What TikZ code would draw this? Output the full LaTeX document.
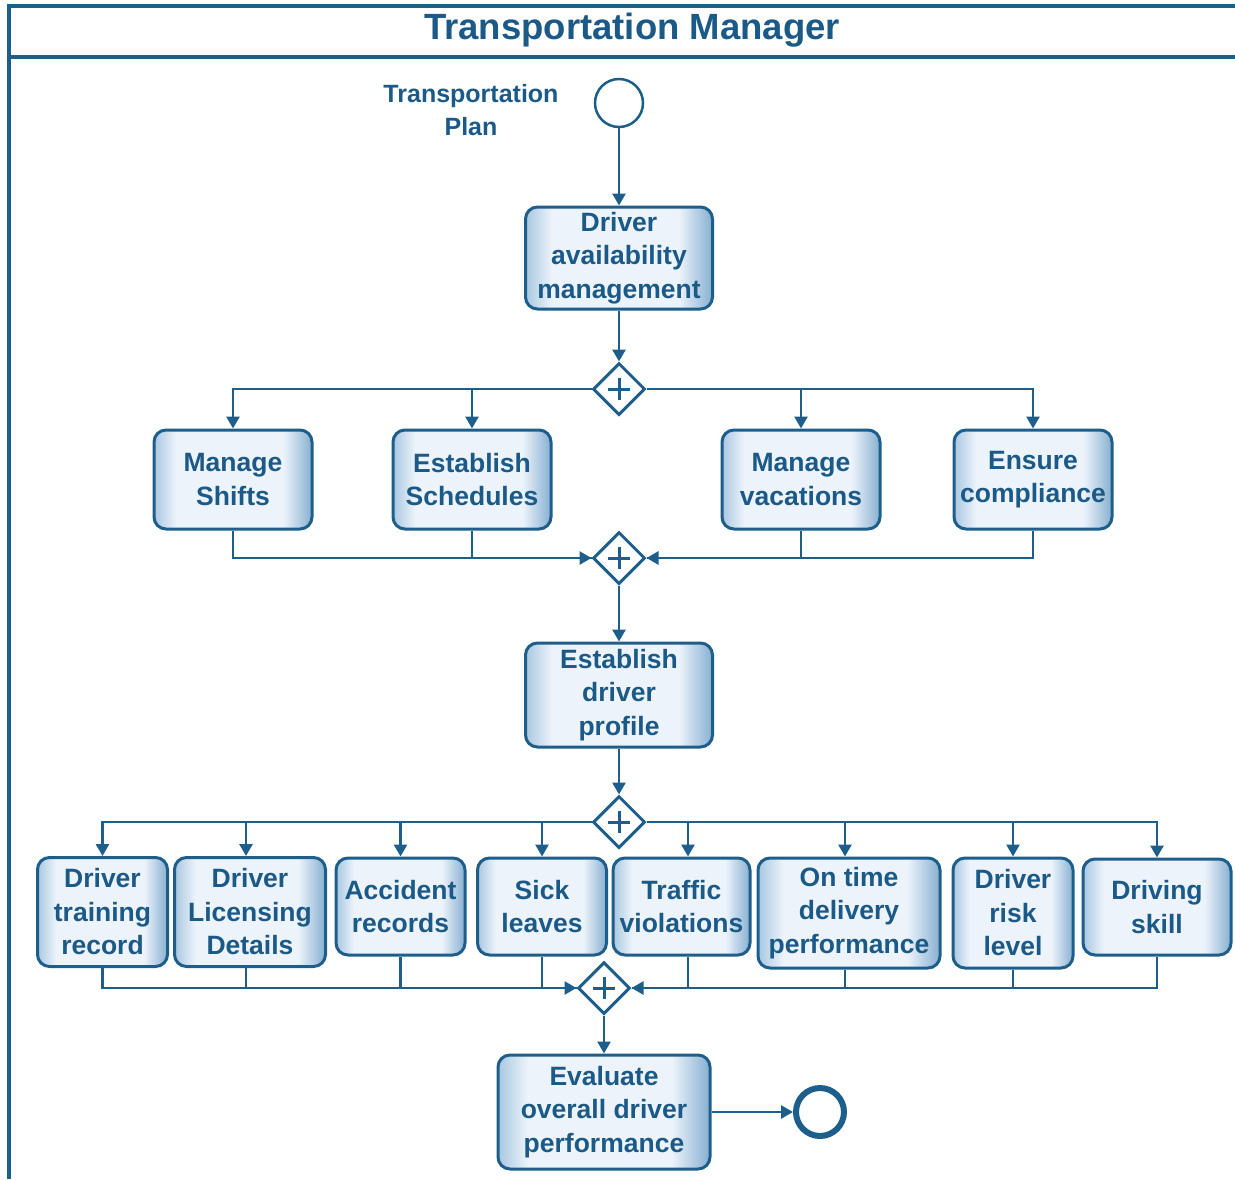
\documentclass[tikz,border=0pt]{standalone}
\usepackage{fontspec}
\setmainfont{Liberation Sans}
\usetikzlibrary{arrows.meta,shapes.geometric,calc}

\definecolor{ink}{HTML}{1E5E8B}
\definecolor{txt}{HTML}{1B5987}
\definecolor{shL}{HTML}{A8C7E1}
\definecolor{shM}{HTML}{ECF3FA}
\definecolor{shR}{HTML}{86AFD1}
% light centre, darker side bands for the task boxes
\pgfdeclarehorizontalshading{taskshade}{100bp}{color(0bp)=(shL); color(25bp)=(shL); color(32bp)=(shM); color(66bp)=(shM); color(75bp)=(shR); color(100bp)=(shR)}

\tikzset{
  task/.style={draw=ink, line width=3pt, rounded corners=12pt, shading=taskshade,
    text=txt, font=\bfseries\fontsize{26.5}{33.5}\selectfont, align=center, inner sep=0pt},
  gate/.style={diamond, draw=ink, fill=white, line width=3pt, minimum width=52pt,
    minimum height=52pt, inner sep=0pt,
    path picture={\draw[ink, line width=3pt]
      ([xshift=-11pt]path picture bounding box.center) -- ([xshift=11pt]path picture bounding box.center)
      ([yshift=-11pt]path picture bounding box.center) -- ([yshift=11pt]path picture bounding box.center);}},
  flow/.style={draw=ink, line width=2.8pt, -{Triangle[length=12pt,width=13pt]}},
  seg/.style={draw=ink, line width=2.8pt},
  pool/.style={draw=ink, line width=3.5pt},
}

\begin{document}
\begin{tikzpicture}[x=1pt, y=-1pt]
\useasboundingbox (0,0) rectangle (1235,1179);

% pool with header
\draw[pool] (9,1179) -- (9,6) -- (1235,6);
\draw[pool] (9,57) -- (1235,57);
\node[text=txt, font=\bfseries\fontsize{36.5}{40}\selectfont] (title) at (632,30) {Transportation Manager};

% events
\node[circle, draw=ink, line width=2.5pt, fill=white, minimum size=48pt, inner sep=0pt] (start) at (619,103) {};
\node[text=txt, font=\bfseries\fontsize{25}{33.5}\selectfont, align=center] (startlbl) at (471,110) {Transportation\\Plan};
\node[circle, draw=ink, line width=6pt, fill=white, minimum size=48pt, inner sep=0pt] (end) at (820,1112) {};

% tasks
\node[task, minimum width=187pt, minimum height=102pt] (dam) at (619,258) {Driver\\availability\\management};
\node[task, minimum width=158pt, minimum height=99pt] (ms) at (233,479.5) {Manage\\Shifts};
\node[task, minimum width=158pt, minimum height=99pt] (es) at (472,479.5) {Establish\\Schedules};
\node[task, minimum width=158pt, minimum height=99pt] (mv) at (801,479.5) {Manage\\vacations};
\node[task, minimum width=158pt, minimum height=99pt] (ec) at (1033,479.5) {Ensure\\compliance};
\node[task, minimum width=187pt, minimum height=104pt] (edp) at (619,695) {Establish\\driver\\profile};

\node[task, minimum width=130pt, minimum height=109pt] (dtr) at (102.5,912) {Driver\\training\\record};
\node[task, minimum width=151pt, minimum height=109pt] (dld) at (250,912) {Driver\\Licensing\\Details};
\node[task, minimum width=129pt, minimum height=97pt] (ar) at (400.5,906.5) {Accident\\records};
\node[task, minimum width=129pt, minimum height=97pt] (sl) at (542,906.5) {Sick\\leaves};
\node[task, minimum width=137pt, minimum height=97pt] (tv) at (681.5,906.5) {Traffic\\violations};
\node[task, minimum width=182pt, minimum height=110pt] (otd) at (849,913) {On time\\delivery\\performance};
\node[task, minimum width=120pt, minimum height=110pt] (drl) at (1013,913) {Driver\\risk\\level};
\node[task, minimum width=148pt, minimum height=96pt] (dsk) at (1157,907) {Driving\\skill};

\node[task, minimum width=212pt, minimum height=114pt] (eval) at (604,1112) {Evaluate\\overall driver\\performance};

% gateways
\node[gate] (g1) at (619,389) {};
\node[gate] (g2) at (619,558) {};
\node[gate] (g3) at (619,822) {};
\node[gate] (g4) at (604,988) {};

% sequence flows
\draw[flow] (start) -- (dam);
\draw[flow] (dam) -- (g1);
\draw[flow] (g1.west) -| (ms.north);
\draw[flow] (g1.west) -| (es.north);
\draw[flow] (g1.east) -| (mv.north);
\draw[flow] (g1.east) -| (ec.north);

\draw[flow] (ms.south) |- (g2.west);
\draw[seg]  (es.south) |- (g2.west);
\draw[flow] (ec.south) |- (g2.east);
\draw[seg]  (mv.south) |- (g2.east);

\draw[flow] (g2) -- (edp);
\draw[flow] (edp) -- (g3);

\draw[flow] (g3.west) -| (dtr.north);
\draw[flow] (g3.west) -| ([xshift=-4pt]dld.north);
\draw[flow] (g3.west) -| (ar.north);
\draw[flow] (g3.west) -| (sl.north);
\draw[flow] (g3.east) -| ([xshift=6.5pt]tv.north);
\draw[flow] (g3.east) -| ([xshift=-4pt]otd.north);
\draw[flow] (g3.east) -| (drl.north);
\draw[flow] (g3.east) -| (dsk.north);

\draw[flow] (dtr.south) |- (g4.west);
\draw[seg]  ([xshift=-4pt]dld.south) |- (g4.west);
\draw[seg]  (ar.south) |- (g4.west);
\draw[seg]  (sl.south) |- (g4.west);
\draw[seg]  ([xshift=6.5pt]tv.south) |- (g4.east);
\draw[seg]  ([xshift=-4pt]otd.south) |- (g4.east);
\draw[seg]  (drl.south) |- (g4.east);
\draw[flow] (dsk.south) |- (g4.east);

\draw[flow] (g4) -- (eval);
\draw[flow] (eval) -- (end);
\end{tikzpicture}
\end{document}
